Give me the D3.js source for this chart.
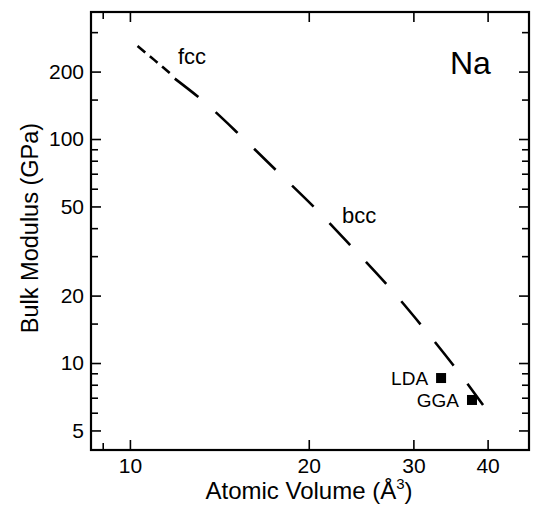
<!DOCTYPE html>
<html>
<head>
<meta charset="utf-8">
<script src="https://cdn.jsdelivr.net/npm/d3@7"></script>
<style>
	body { margin: 0; background: #fff; }
	text { font-family: "Liberation Sans", Arial, Helvetica, sans-serif; fill: #000; }
</style>
</head>
<body>
<svg id="chart" width="536" height="508"></svg>
<script>
// fcc branch (short dashes) and bcc branch (long dashes)
var fccVolume = [10.3, 11.0, 11.8];
var fccModulus = [260, 225, 192];
var bccVolume = [11.9, 13.27, 15.44, 17.75, 20.56, 23.64, 27.19, 30.9, 35.0, 39.3];
var bccModulus = [186, 148, 102, 71.2, 48.7, 33.0, 22.1, 14.8, 9.8, 6.5];

var pointLabels = ['LDA', 'GGA'];
var pointVolume = [33.4, 37.65];
var pointModulus = [8.57, 6.84];

var xMajorTicks = [10, 20, 30, 40];
var xMinorTicks = [9];
var yMajorTicks = [5, 10, 20, 50, 100, 200];
var yMinorTicks = [6, 7, 8, 9, 15, 30, 40, 60, 70, 80, 90, 150, 300];

// note: "top" is taken by window.top, so frame edges get their own names
var frameLeft = 91, frameRight = 529, frameTop = 12, frameBottom = 450;

var svg = d3.select('#chart');

var x = d3.scaleLog()
	.domain([8.6, 46.96])
	.range([frameLeft, frameRight]);

var y = d3.scaleLog()
	.domain([4.09, 369])
	.range([frameBottom, frameTop]);

function drawAxis (axis, transform, labels) {
	var g = svg.append('g')
		.attr('transform', transform)
		.call(axis);
	g.select('.domain').remove();
	g.attr('font-size', 21)
		.attr('font-family', '"Liberation Sans", Arial, sans-serif');
	g.selectAll('.tick line')
		.attr('stroke', '#000')
		.attr('stroke-width', 1.6);
	if (labels) {
		g.selectAll('.tick text')
			.attr('fill', '#000');
	} else {
		g.selectAll('.tick text').remove();
	}
	return g;
}

var fmt = function (d) { return d; };

// bottom / top
drawAxis(d3.axisBottom(x).tickValues(xMajorTicks).tickFormat(fmt).tickSizeInner(-10).tickPadding(8), 'translate(0,' + frameBottom + ')', true);
drawAxis(d3.axisBottom(x).tickValues(xMinorTicks).tickSizeInner(-7), 'translate(0,' + frameBottom + ')', false);
drawAxis(d3.axisTop(x).tickValues(xMajorTicks).tickSizeInner(-10), 'translate(0,' + frameTop + ')', false);
drawAxis(d3.axisTop(x).tickValues(xMinorTicks).tickSizeInner(-7), 'translate(0,' + frameTop + ')', false);

// left / right
drawAxis(d3.axisLeft(y).tickValues(yMajorTicks).tickFormat(fmt).tickSizeInner(-10).tickPadding(7), 'translate(' + frameLeft + ',0)', true);
drawAxis(d3.axisLeft(y).tickValues(yMinorTicks).tickSizeInner(-7), 'translate(' + frameLeft + ',0)', false);
drawAxis(d3.axisRight(y).tickValues(yMajorTicks).tickSizeInner(-10), 'translate(' + frameRight + ',0)', false);
drawAxis(d3.axisRight(y).tickValues(yMinorTicks).tickSizeInner(-7), 'translate(' + frameRight + ',0)', false);

svg.append('rect')
	.attr('x', frameLeft)
	.attr('y', frameTop)
	.attr('width', frameRight - frameLeft)
	.attr('height', frameBottom - frameTop)
	.attr('fill', 'none')
	.attr('stroke', '#000')
	.attr('stroke-width', 2.2);

var line = d3.line()
	.x(function (d) { return x(d[0]); })
	.y(function (d) { return y(d[1]); })
	.curve(d3.curveMonotoneX);

svg.append('path')
	.datum(d3.zip(fccVolume, fccModulus))
	.attr('d', line)
	.attr('fill', 'none')
	.attr('stroke', '#000')
	.attr('stroke-width', 2.6)
	.attr('stroke-dasharray', '10,6');

svg.append('path')
	.datum(d3.zip(bccVolume, bccModulus))
	.attr('d', line)
	.attr('fill', 'none')
	.attr('stroke', '#000')
	.attr('stroke-width', 2.6)
	.attr('stroke-dasharray', '30,23');

var pts = d3.zip(pointVolume, pointModulus, pointLabels);

svg.selectAll('rect.pt')
	.data(pts)
	.enter()
	.append('rect')
	.attr('class', 'pt')
	.attr('x', function (d) { return x(d[0]) - 5; })
	.attr('y', function (d) { return y(d[1]) - 5; })
	.attr('width', 10)
	.attr('height', 10)
	.attr('fill', '#000');

svg.selectAll('text.pt')
	.data(pts)
	.enter()
	.append('text')
	.attr('class', 'pt')
	.attr('x', function (d) { return x(d[0]) - 13; })
	.attr('y', function (d) { return y(d[1]) + 7; })
	.attr('text-anchor', 'end')
	.attr('font-size', 19)
	.text(function (d) { return d[2]; });

svg.append('text')
	.attr('x', 178)
	.attr('y', 64)
	.attr('font-size', 22)
	.text('fcc');

svg.append('text')
	.attr('x', 342)
	.attr('y', 223)
	.attr('font-size', 22)
	.text('bcc');

svg.append('text')
	.attr('x', 450)
	.attr('y', 74)
	.attr('font-size', 32)
	.text('Na');

var xTitle = svg.append('text')
	.attr('x', 309)
	.attr('y', 499)
	.attr('text-anchor', 'middle')
	.attr('font-size', 24);
xTitle.append('tspan').text('Atomic Volume (Å');
xTitle.append('tspan').attr('font-size', 15).attr('dy', -10).text('3');
xTitle.append('tspan').attr('dy', 10).text(')');

svg.append('text')
	.attr('transform', 'translate(38,228) rotate(-90)')
	.attr('text-anchor', 'middle')
	.attr('font-size', 23.5)
	.text('Bulk Modulus (GPa)');
</script>
</body>
</html>
